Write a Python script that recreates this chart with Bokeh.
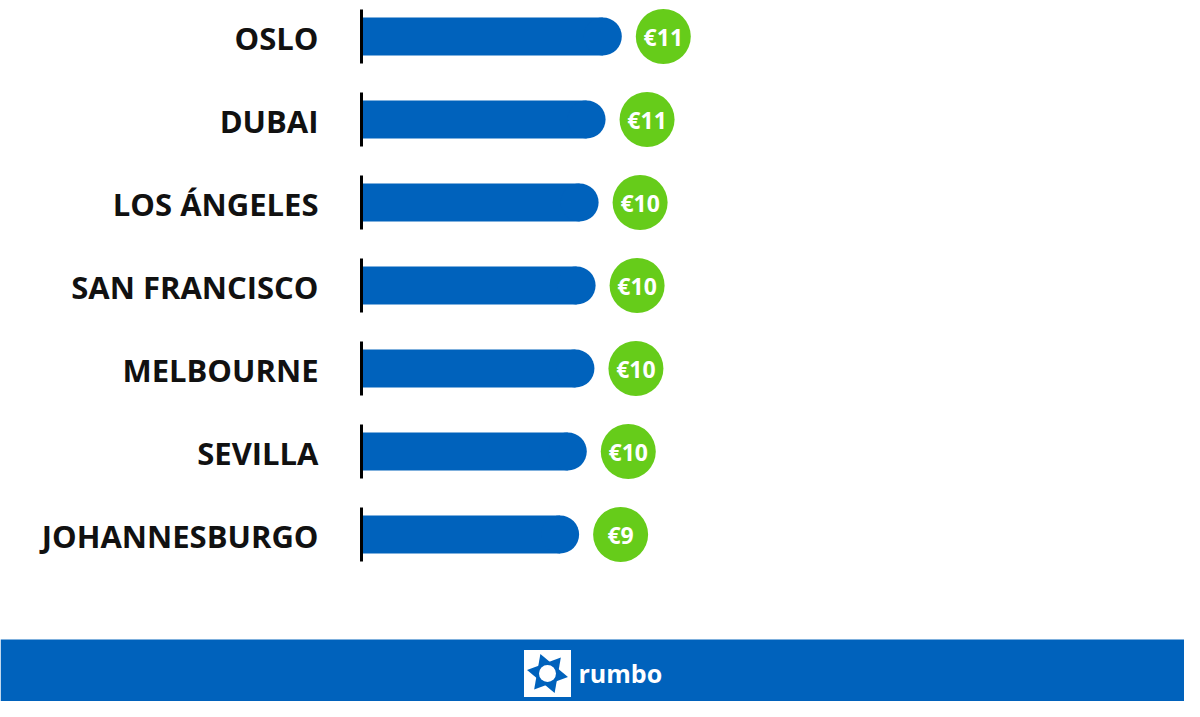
from bokeh.plotting import figure
from bokeh.models import Range1d, BoxAnnotation, ColumnDataSource
from bokeh.core.properties import value
from bokeh.embed import file_html
from bokeh.resources import INLINE

cities = ["OSLO", "DUBAI", "LOS ÁNGELES", "SAN FRANCISCO", "MELBOURNE", "SEVILLA", "JOHANNESBURGO"]
prices = [11.22, 10.52, 10.22, 10.09, 10.04, 9.71, 9.38]
price_labels = ["€11", "€11", "€10", "€10", "€10", "€10", "€9"]

W, H = 1184, 701
PX = 23.2          # pixels per euro
X0 = 361           # pixel position of zero
ROW = 83.0         # pixels per row
Y0 = 36            # pixel centre of first row

BLUE = "#0062BC"
GREEN = "#66CC1A"

p = figure(width=W, height=H, output_backend="svg", toolbar_location=None,
           x_range=Range1d(-X0 / PX, (W - X0) / PX),
           y_range=Range1d((H - Y0) / ROW, -Y0 / ROW),
           min_border=0)
p.axis.visible = False
p.grid.visible = False
p.outline_line_color = None
p.background_fill_color = "white"

rows = list(range(len(cities)))
cap = 19 / PX
src = ColumnDataSource(dict(
    y=rows, city=cities, price=prices, label=price_labels,
    bar_right=[v - cap for v in prices],
    badge_x=[v + 41.5 / PX for v in prices],
    zero=[0] * len(rows),
    seg_top=[r - 27 / ROW for r in rows],
    seg_bot=[r + 27 / ROW for r in rows],
))

# footer banner (below glyphs)
banner_top = (639 - Y0) / ROW
p.add_layout(BoxAnnotation(top=banner_top, bottom=(H + 20 - Y0) / ROW,
                           fill_color=BLUE, fill_alpha=1, line_alpha=0,
                           level="underlay"))

bh = 38 / ROW
p.hbar(y="y", left="zero", right="bar_right", height=bh, source=src,
       fill_color=BLUE, line_color=None)
p.scatter(x="bar_right", y="y", size=38, marker="circle", source=src,
          fill_color=BLUE, line_color=None)
p.segment(x0="zero", y0="seg_top", x1="zero", y1="seg_bot", source=src,
          line_color="black", line_width=3)

p.text(x="zero", y="y", text="city", source=src, x_offset=-43, y_offset=1,
       text_align="right", text_baseline="middle",
       text_font=value("Open Sans"), text_font_style="bold",
       text_font_size="31px", text_color="#111111")

p.scatter(x="badge_x", y="y", size=55, marker="circle", source=src,
          fill_color=GREEN, line_color=None)
p.text(x="badge_x", y="y", text="label", source=src,
       text_align="center", text_baseline="middle",
       text_font=value("Open Sans"), text_font_style="bold",
       text_font_size="23px", text_color="white")

# logo
lx = (555 - 369) / PX
ly = (673 - Y0) / ROW
p.scatter(x=[lx], y=[ly], size=47, marker="square", fill_color="white", line_color=None)
p.scatter(x=[lx], y=[ly], size=36, marker="triangle", angle=0.35,
          fill_color=BLUE, line_color=None)
p.scatter(x=[lx], y=[ly], size=36, marker="inverted_triangle", angle=0.35,
          fill_color=BLUE, line_color=None)
p.scatter(x=[lx], y=[ly], size=17, marker="circle", fill_color="white", line_color=None)
p.text(x=[lx], y=[ly], text=["rumbo"], x_offset=31, y_offset=-1,
       text_align="left", text_baseline="middle",
       text_font=value("Open Sans"), text_font_style="bold",
       text_font_size="25px", text_color="white")

open("out.html", "w").write(file_html(p, INLINE))
